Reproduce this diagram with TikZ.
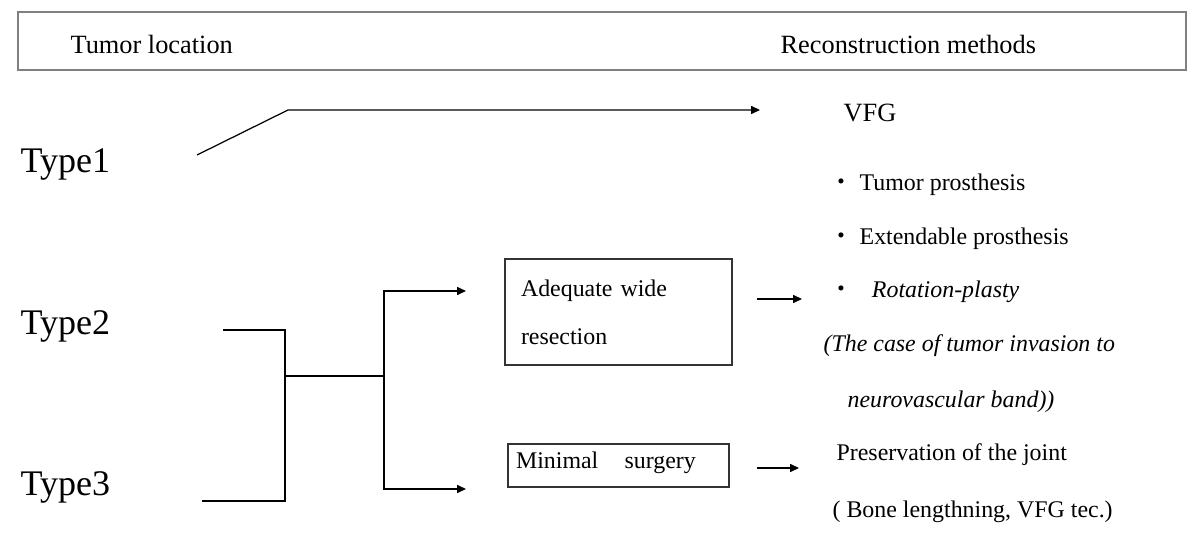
\documentclass[tikz,border=0pt]{standalone}
\usepackage{fontspec}
\setmainfont{Liberation Serif}
\newfontfamily\cjk{Noto Sans CJK JP}
\usetikzlibrary{arrows.meta}
\newcommand{\bodyfont}{\fontsize{13.6}{16}\selectfont}
\newcommand{\dotmark}{{\cjk ・}}
\begin{document}
\begin{tikzpicture}[x=0.02cm, y=-0.02cm, line width=0.7pt,
		txt/.style={anchor=base west, inner sep=0pt, font=\bodyfont},
		typ/.style={anchor=base west, inner sep=0pt, font=\fontsize{20.5}{24}\selectfont},
		hd/.style={anchor=base west, inner sep=0pt, font=\fontsize{15}{18}\selectfont},
		stepbox/.style={draw=black!80, align=left, inner ysep=0pt},
		arr/.style={-{Triangle[length=5pt,width=4.5pt]}}]
		\useasboundingbox (0,0) rectangle (1200,550);
		\draw[black!50] (18,12) rectangle (1186,70);
		\node[hd] (loc) at (70,54) {Tumor location};
		\node[hd] (rec) at (780,54) {Reconstruction methods};
		
		\node[typ] (T1) at (20,173) {Type1};
		\node[typ] (T2) at (20,335) {Type2};
		\node[typ] (T3) at (20,495) {Type3};
		
		\node[hd] (vfg) at (843,122) {VFG};
		\node[txt] (tp) at (829,191) {\dotmark\hspace{3.5pt}Tumor prosthesis};
		\node[txt] (ep) at (829,245) {\dotmark\hspace{3.5pt}Extendable prosthesis};
		\node[txt] (rp) at (829,298) {\dotmark\hspace{10.5pt}\textit{Rotation-plasty}};
		\node[txt] (cs) at (823,352) {\textit{(The case of tumor invasion to}};
		\node[txt] (nb) at (847,407) {\textit{neurovascular band))}};
		\node[txt] (pj) at (836,460) {Preservation of the joint};
		\node[txt] (bl) at (832,517) {( Bone lengthning, VFG tec.)};
		
		\node[stepbox, minimum width=4.54cm, minimum height=2.12cm, text width=3.9cm, inner xsep=0.32cm,
			font=\fontsize{13.6}{27.3}\selectfont] (wide) at (618.5,312) {Adequate wide\\resection};
		\node[stepbox, minimum width=4.42cm, minimum height=0.86cm, text width=4.1cm, inner xsep=0.16cm,
			font=\bodyfont, text depth=0.2cm] (mini) at (618.5,465.5) {Minimal\hspace{1.1em}surgery};
		
		\coordinate (a1) at (197,155);
		\coordinate (a2) at (288,110);
		\coordinate (a3) at (760,110);
		\coordinate (b1) at (223,330);
		\coordinate (b2) at (285,330);
		\coordinate (b3) at (285,501);
		\coordinate (b4) at (202,501);
		\coordinate (m1) at (285,376);
		\coordinate (m2) at (384,376);
		\coordinate (u1) at (384,291);
		\coordinate (u2) at (466,291);
		\coordinate (d1) at (384,489);
		\coordinate (d2) at (466,489);
		\coordinate (r1) at (757,299);
		\coordinate (r2) at (802,299);
		\coordinate (s1) at (757,468);
		\coordinate (s2) at (799,468);
		
		\draw[arr] (a1) -- (a2) -- (a3);
		\draw (b1) -- (b2) -- (b3) -- (b4);
		\draw (m1) -- (m2);
		\draw[arr] (m2) -- (u1) -- (u2);
		\draw[arr] (m2) -- (d1) -- (d2);
		\draw[arr] (r1) -- (r2);
		\draw[arr] (s1) -- (s2);
	\end{tikzpicture}
\end{document}
